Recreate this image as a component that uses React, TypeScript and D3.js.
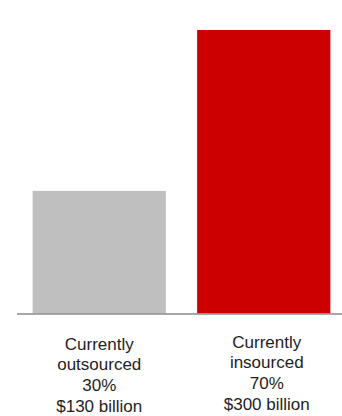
import React from "react";
import * as d3 from "d3";

// Spend split between outsourced and insourced work ($ billion)
const categories = ["outsourced", "insourced"];
const values = [130, 300];
const barColors = ["#bfbfbf", "#cc0000"];
const labelLines = [
  ["Currently", "outsourced", "30%", "$130 billion"],
  ["Currently", "insourced", "70%", "$300 billion"],
];

const W = 342;
const H = 416;
const baseY = 314;
const topY = 30;

export default function App() {
  const x = d3
    .scaleBand<string>()
    .domain(categories)
    .range([17, 346])
    .paddingInner(0.19)
    .paddingOuter(0.095);
  const y = d3.scaleLinear().domain([0, 300]).range([baseY, topY]);

  // small horizontal / vertical nudges of the label blocks
  const labelDx = [0, 3];
  const labelY0 = [349.5, 347.5];
  const lineGap = 20.7;

  return (
    <svg
      width={W}
      height={H}
      style={{ position: "absolute", left: 0, top: 0, background: "#fff" }}
    >
      {categories.map((c, i) => (
        <rect
          key={c}
          x={x(c)}
          y={y(values[i])}
          width={x.bandwidth()}
          height={baseY - 0.5 - y(values[i])}
          fill={barColors[i]}
        />
      ))}
      <line
        x1={17}
        x2={342}
        y1={baseY}
        y2={baseY}
        stroke="#8a8a8a"
        strokeWidth={1.5}
      />
      {categories.map((c, i) => (
        <text
          key={c + "-label"}
          textAnchor="middle"
          fontFamily="'Liberation Sans', Arial, sans-serif"
          fontSize={17}
          fill="#1e1e1e"
        >
          {labelLines[i].map((t, j) => (
            <tspan
              key={j}
              x={(x(c) as number) + x.bandwidth() / 2 + labelDx[i]}
              y={labelY0[i] + j * lineGap}
            >
              {t}
            </tspan>
          ))}
        </text>
      ))}
    </svg>
  );
}
